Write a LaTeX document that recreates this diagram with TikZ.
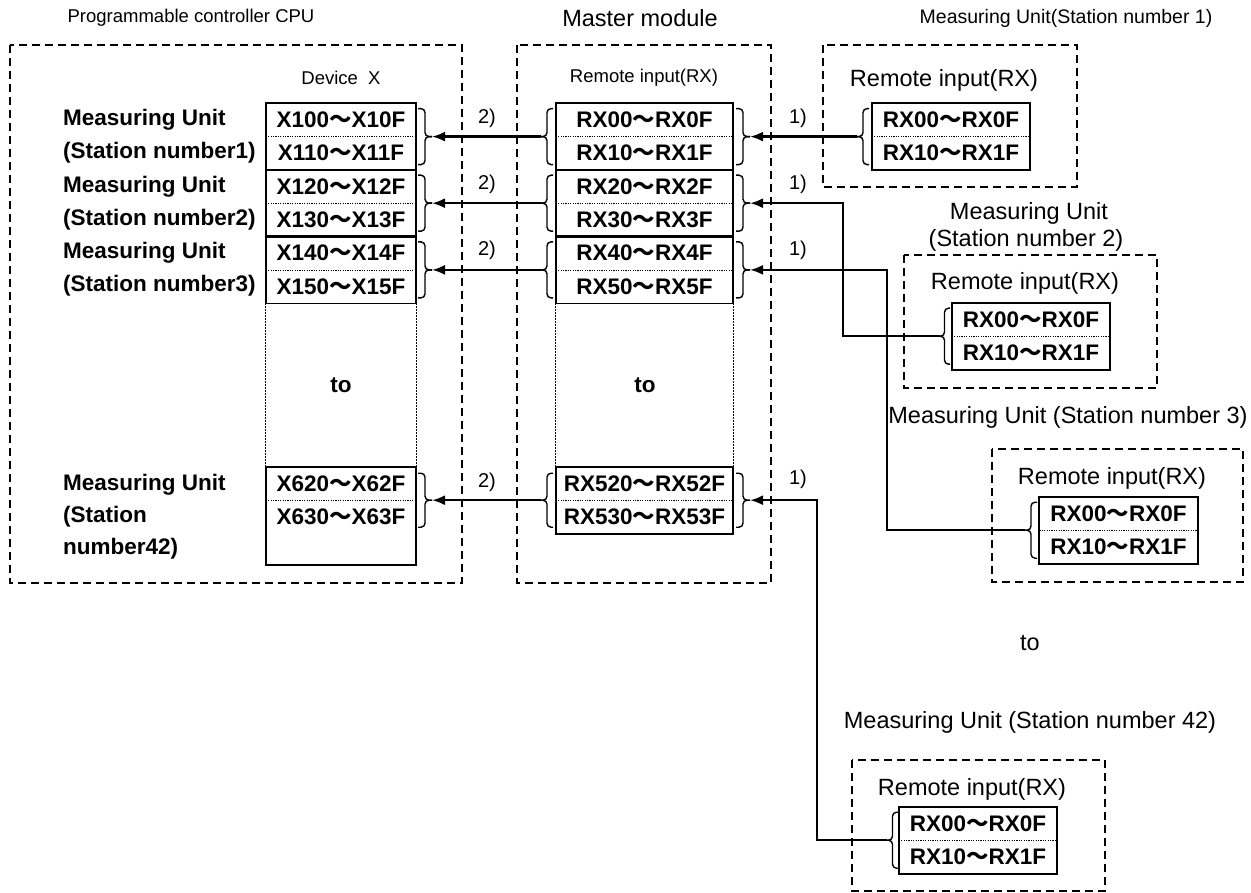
\documentclass[tikz,border=0pt]{standalone}
\usepackage{fontspec}
\setmainfont{Liberation Sans}
\newfontfamily\cjk{Noto Sans CJK JP}
\usetikzlibrary{arrows.meta}
\newcommand\tl{{\cjk\bfseries ～}}
\newcommand\tls{{\cjk 〜}}
\newcommand\fS{\fontsize{18.5}{22}\selectfont}
\newcommand\fM{\fontsize{19.5}{23}\selectfont}
\newcommand\fL{\fontsize{23.5}{28}\selectfont}
\newcommand\fN{\fontsize{20}{24}\selectfont}
\newcommand\fB{\fontsize{22.5}{27}\selectfont\bfseries}
% brace: base x, tip x, mid y, half height, name of tip
\newcommand\mybrace[5]{%
  \pgfmathsetmacro\bxm{(#1+#2)/2}%
  \pgfmathsetmacro\byt{#3-#4}%
  \pgfmathsetmacro\byb{#3+#4}%
  \draw[brc] (#1,\byt) -- (\bxm,\byt) -- (\bxm,#3) -- (#2,#3);
  \draw[brc] (#1,\byb) -- (\bxm,\byb) -- (\bxm,#3) -- (#2,#3);
  \coordinate (#5) at (#2,#3);}
\tikzset{
  dbox/.style={draw, line width=1.4pt, dash pattern=on 8pt off 5pt},
  tbl/.style={draw, line width=1.8pt},
  sep/.style={line width=0.8pt, dash pattern=on 1.2pt off 1.2pt},
  vdot/.style={line width=0.8pt, dash pattern=on 1.2pt off 1.8pt},
  brc/.style={line width=1.4pt, rounded corners=4pt},
  conn/.style={line width=2.3pt},
  arr/.style={conn, -{Latex[length=13pt,width=10pt]}},
  cpucell/.style={inner sep=0pt, minimum width=150pt, minimum height=33.33pt, font=\fB},
  mascell/.style={inner sep=0pt, minimum width=177pt, minimum height=33.33pt, font=\fB},
  stcell/.style={inner sep=0pt, minimum width=158pt, minimum height=33.33pt, font=\fB},
  ttlS/.style={inner sep=0pt, font=\fS},
  ttlM/.style={inner sep=0pt, font=\fM},
  ttlL/.style={inner sep=0pt, font=\fL},
  lbl/.style={inner sep=0pt, anchor=west, font=\fB},
  num/.style={inner sep=0pt, font=\fN},
}
\begin{document}
\begin{tikzpicture}[x=1pt,y=-1pt]
\useasboundingbox (0,0) rectangle (1251,893);

% titles
\node[ttlS] (tcpu) at (191,18) {Programmable controller CPU};
\node[ttlL] (tmas) at (640,18) {Master module};
\node[ttlM] (tst1) at (1066,18) {Measuring Unit(Station number 1)};
\node[ttlS] (devx) at (341,78) {Device\ \ X};
\node[ttlS] (mri) at (644,78) {Remote input(RX)};
\node[ttlL] (s1ri) at (944,80) {Remote input(RX)};
\node[ttlL] (tst2a) at (1029,213) {Measuring Unit};
\node[ttlL] (tst2b) at (1026,240) {(Station number 2)};
\node[ttlL] (s2ri) at (1025,283) {Remote input(RX)};
\node[ttlL] (tst3) at (1068,417) {Measuring Unit (Station number 3)};
\node[ttlL] (s3ri) at (1112,478) {Remote input(RX)};
\node[ttlL] (tor) at (1030,643) {to};
\node[ttlL] (tst42) at (1030,722) {Measuring Unit (Station number 42)};
\node[ttlL] (s42ri) at (972,789) {Remote input(RX)};

% dashed containers
\draw[dbox] (10,45) rectangle (462,583);
\draw[dbox] (517,45) rectangle (771,583);
\draw[dbox] (823,45) rectangle (1077,187);
\draw[dbox] (904,255) rectangle (1157,388);
\draw[dbox] (992,449) rectangle (1243,582);
\draw[dbox] (852,760) rectangle (1105,891);

% left labels
\node[lbl] (l1a) at (63,120) {Measuring Unit};
\node[lbl] (l1b) at (63,153) {(Station number1)};
\node[lbl] (l2a) at (63,187) {Measuring Unit};
\node[lbl] (l2b) at (63,220) {(Station number2)};
\node[lbl] (l3a) at (63,253) {Measuring Unit};
\node[lbl] (l3b) at (63,286) {(Station number3)};
\node[lbl] (l4a) at (63,485) {Measuring Unit};
\node[lbl] (l4b) at (63,517) {(Station};
\node[lbl] (l4c) at (63,549) {number42)};

% CPU device table
\node[cpucell] (c1) at (341,119.9) {X100\tl X10F};
\node[cpucell] (c2) at (341,153.2) {X110\tl X11F};
\node[cpucell] (c3) at (341,186.5) {X120\tl X12F};
\node[cpucell] (c4) at (341,219.9) {X130\tl X13F};
\node[cpucell] (c5) at (341,253.2) {X140\tl X14F};
\node[cpucell] (c6) at (341,286.6) {X150\tl X15F};
\node[cpucell] (c7) at (341,483.5) {X620\tl X62F};
\node[cpucell] (c8) at (341,516.8) {X630\tl X63F};
\foreach \a/\b in {c1/c2,c3/c4,c5/c6}{
  \draw[tbl] (\a.north west) rectangle (\b.south east);
  \draw[sep] (\a.south west) -- (\a.south east);}
\draw[tbl] (c7.north west) rectangle ([yshift=-31pt]c8.south east);
\draw[sep] (c7.south west) -- (c7.south east);
\draw[vdot] (c6.south west) -- (c7.north west);
\draw[vdot] (c6.south east) -- (c7.north east);
\node[font=\fB, inner sep=0pt] (cto) at (341,385) {to};

% master table
\node[mascell] (m1) at (644.5,119.9) {RX00\tl RX0F};
\node[mascell] (m2) at (644.5,153.2) {RX10\tl RX1F};
\node[mascell] (m3) at (644.5,186.5) {RX20\tl RX2F};
\node[mascell] (m4) at (644.5,219.9) {RX30\tl RX3F};
\node[mascell] (m5) at (644.5,253.2) {RX40\tl RX4F};
\node[mascell] (m6) at (644.5,286.6) {RX50\tl RX5F};
\node[mascell] (m7) at (644.5,483.5) {RX520\tl RX52F};
\node[mascell] (m8) at (644.5,516.8) {RX530\tl RX53F};
\foreach \a/\b in {m1/m2,m3/m4,m5/m6,m7/m8}{
  \draw[tbl] (\a.north west) rectangle (\b.south east);
  \draw[sep] (\a.south west) -- (\a.south east);}
\draw[vdot] (m6.south west) -- (m7.north west);
\draw[vdot] (m6.south east) -- (m7.north east);
\node[font=\fB, inner sep=0pt] (mto) at (645,385) {to};

% station tables
\node[stcell] (sa1) at (951,119.9) {RX00\tls RX0F};
\node[stcell] (sa2) at (951,153.2) {RX10\tls RX1F};
\node[stcell] (sb1) at (1031,319.5) {RX00\tls RX0F};
\node[stcell] (sb2) at (1031,352.8) {RX10\tls RX1F};
\node[stcell] (sc1) at (1118.5,513.5) {RX00\tls RX0F};
\node[stcell] (sc2) at (1118.5,546.8) {RX10\tls RX1F};
\node[stcell] (sd1) at (978,823.5) {RX00\tls RX0F};
\node[stcell] (sd2) at (978,856.8) {RX10\tls RX1F};
\foreach \a/\b in {sa1/sa2,sb1/sb2,sc1/sc2,sd1/sd2}{
  \draw[tbl] (\a.north west) rectangle (\b.south east);
  \draw[sep] (\a.south west) -- (\a.south east);}

% braces
\mybrace{418}{432}{136.6}{28}{cb1}
\mybrace{418}{432}{203.2}{28}{cb2}
\mybrace{418}{432}{269.9}{28}{cb3}
\mybrace{418}{432}{500.2}{27}{cb4}
\mybrace{553}{541}{136.6}{28}{ml1}
\mybrace{553}{541}{203.2}{28}{ml2}
\mybrace{553}{541}{269.9}{28}{ml3}
\mybrace{553}{541}{500.2}{27}{ml4}
\mybrace{736}{750}{136.6}{28}{mr1}
\mybrace{736}{750}{203.2}{28}{mr2}
\mybrace{736}{750}{269.9}{28}{mr3}
\mybrace{736}{750}{500.2}{27}{mr4}
\mybrace{869}{857}{136.6}{28}{sab}
\mybrace{950}{939}{336.2}{28}{sbb}
\mybrace{1037}{1025}{530.2}{28}{scb}
\mybrace{898}{887}{840.2}{28}{sdb}

% connectors 2)
\draw[arr] (ml1) -- (cb1);
\draw[arr] (ml2) -- (cb2);
\draw[arr] (ml3) -- (cb3);
\draw[arr] (ml4) -- (cb4);
\node[num] (n21) at (487,118) {2)};
\node[num] (n22) at (487,184) {2)};
\node[num] (n23) at (487,250) {2)};
\node[num] (n24) at (487,482) {2)};

% connectors 1)
\coordinate (kb) at (843,336.2);
\coordinate (kc) at (887,530.2);
\coordinate (kd) at (817,840.2);
\draw[arr] (sab) -- (mr1);
\draw[arr] (sbb) -- (kb) |- (mr2);
\draw[arr] (scb) -- (kc) |- (mr3);
\draw[arr] (sdb) -- (kd) |- (mr4);
\node[num] (n11) at (798,118) {1)};
\node[num] (n12) at (798,184) {1)};
\node[num] (n13) at (798,250) {1)};
\node[num] (n14) at (798,479) {1)};
\end{tikzpicture}
\end{document}
